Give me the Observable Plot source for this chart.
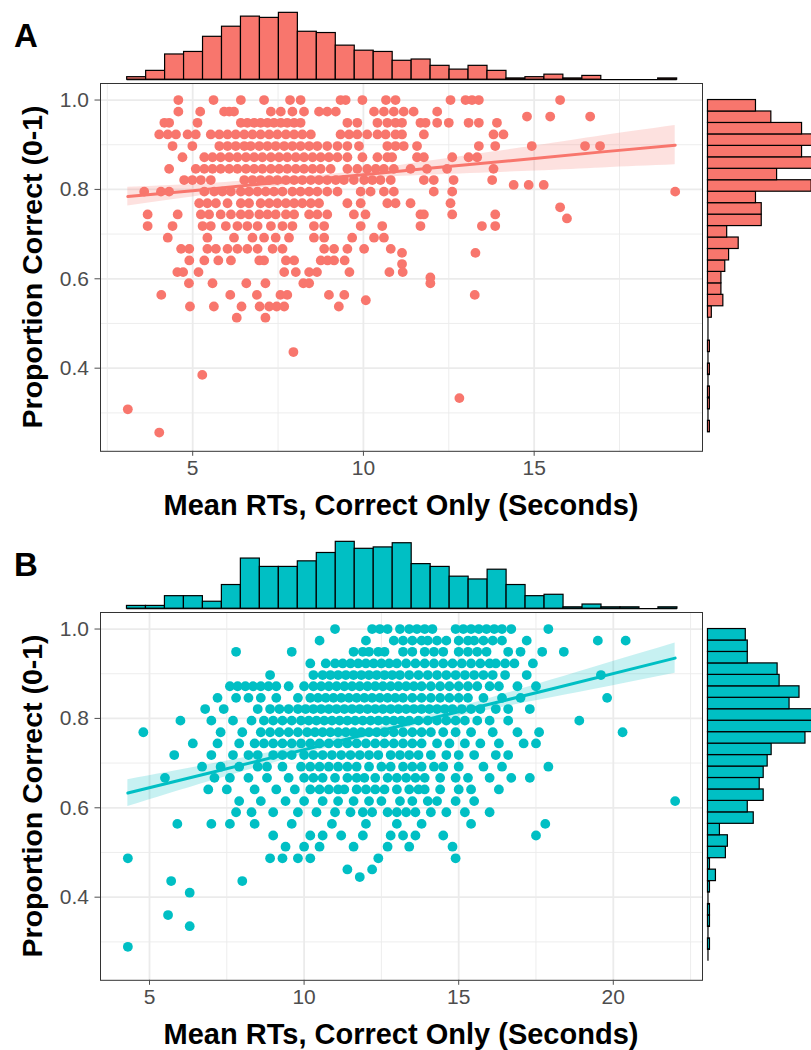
<!DOCTYPE html>
<html>
<head>
<meta charset="utf-8">
<script src="https://cdn.jsdelivr.net/npm/d3@7"></script>
<script src="https://cdn.jsdelivr.net/npm/@observablehq/plot@0.6"></script>
<style>
  html, body { margin: 0; padding: 0; background: #fff; }
  #fig { position: relative; width: 811px; height: 1050px; overflow: hidden; }
  #fig svg { position: absolute; }
</style>
</head>
<body>
<div id="fig"></div>
<script>
// ---------- Panel A: accuracy (proportion correct) vs mean correct RT ----------
// Each row: [proportion correct, RTs (seconds) of the participants at that level]
const rowsA = [
  [1.000, [4.58, 5.61, 6.41, 7.09, 7.85, 8.16, 9.33, 9.48, 9.97, 10.66, 10.94, 12.55, 12.99, 13.18, 13.38, 15.76]],
  [0.974, [4.58, 5.22, 5.92, 6.07, 6.21, 7.29, 7.58, 7.92, 8.26, 8.70, 8.94, 9.19, 10.31, 10.60, 10.89, 11.18, 11.47, 12.16]],
  [0.963, [14.79, 15.47, 16.64]],
  [0.949, [4.17, 4.31, 5.14, 6.41, 6.60, 6.80, 6.99, 7.19, 7.38, 7.58, 7.77, 7.97, 8.16, 9.53, 9.82, 10.41, 10.70, 10.94, 11.13, 11.67, 11.82, 12.16, 12.50, 13.08, 13.38, 13.91]],
  [0.923, [4.02, 4.27, 4.51, 4.85, 5.09, 5.53, 5.78, 6.02, 6.26, 6.51, 6.75, 6.99, 7.24, 7.48, 7.73, 7.97, 8.21, 8.46, 9.33, 9.58, 9.82, 10.11, 10.41, 10.65, 10.94, 11.13, 11.77, 13.81, 14.10]],
  [0.897, [4.41, 4.99, 5.78, 6.02, 6.26, 6.51, 6.70, 6.95, 7.19, 7.43, 7.68, 7.92, 8.16, 8.41, 8.65, 8.94, 9.24, 9.53, 9.87, 10.70, 10.94, 11.18, 11.57, 13.38, 13.86, 14.93, 16.49, 16.93]],
  [0.872, [4.70, 5.34, 5.58, 5.82, 6.07, 6.31, 6.56, 6.80, 7.04, 7.29, 7.53, 7.77, 8.02, 8.26, 8.51, 8.75, 8.99, 9.24, 9.53, 9.97, 10.41, 10.70, 10.84, 11.57, 11.77, 12.60, 13.08, 13.33]],
  [0.846, [4.31, 5.09, 5.34, 5.58, 5.82, 6.07, 6.31, 6.56, 6.80, 7.04, 7.29, 7.53, 7.77, 8.02, 8.26, 8.51, 8.75, 9.04, 9.53, 9.82, 10.11, 10.36, 10.60, 10.89, 11.38, 11.86, 12.45, 13.81]],
  [0.821, [4.75, 4.99, 5.24, 5.53, 6.51, 6.75, 6.99, 7.24, 7.48, 7.73, 7.97, 8.21, 8.46, 8.70, 8.94, 9.19, 9.43, 9.72, 10.02, 10.26, 10.50, 10.80, 11.77, 12.06, 12.64, 13.77]],
  [0.810, [14.40, 14.84, 15.28]],
  [0.795, [3.58, 4.07, 4.31, 5.34, 5.63, 5.87, 6.12, 6.41, 6.65, 6.90, 7.14, 7.38, 7.63, 7.92, 8.16, 8.41, 8.65, 8.94, 9.24, 9.92, 10.21, 10.60, 10.89, 12.06, 12.60, 19.13]],
  [0.769, [5.19, 5.43, 5.68, 6.02, 6.41, 6.65, 6.99, 7.24, 7.48, 7.73, 7.97, 8.21, 8.46, 8.70, 9.53, 9.92, 10.70, 10.94, 11.38, 12.55]],
  [0.760, [15.76]],
  [0.744, [3.68, 4.56, 5.24, 5.48, 5.82, 6.12, 6.41, 6.65, 6.95, 7.19, 7.43, 7.73, 7.97, 8.41, 8.65, 8.94, 9.72, 10.06, 11.67, 11.77, 12.60, 13.86]],
  [0.735, [15.96]],
  [0.718, [3.68, 4.41, 5.29, 5.53, 5.97, 6.31, 6.60, 6.90, 7.29, 7.63, 7.92, 8.55, 8.85, 9.92, 10.55, 11.67, 13.47, 13.86]],
  [0.692, [4.27, 5.43, 6.21, 6.75, 7.09, 7.43, 7.82, 8.55, 8.85, 9.67, 10.31, 10.60]],
  [0.667, [4.66, 4.90, 5.43, 5.68, 6.02, 6.31, 6.60, 6.90, 7.34, 7.63, 8.85, 9.14, 9.53, 10.02, 10.80]],
  [0.658, [11.13, 13.28]],
  [0.641, [4.90, 5.34, 5.75, 6.12, 6.95, 7.09, 7.73, 7.97, 8.75, 8.95, 9.14, 9.45]],
  [0.633, [11.13]],
  [0.615, [4.55, 4.72, 5.17, 7.68, 8.02, 8.41, 8.64, 9.59, 10.76, 11.15]],
  [0.603, [11.96]],
  [0.590, [4.89, 5.58, 6.57, 7.13, 8.24, 8.41, 11.96]],
  [0.564, [4.08, 6.10, 6.88, 7.57, 7.77, 8.99, 9.44, 13.26]],
  [0.552, [10.07]],
  [0.538, [4.92, 5.62, 6.43, 6.96, 7.24, 7.46, 7.68, 9.28]],
  [0.513, [6.29, 7.13]],
  [0.436, [7.95]],
  [0.385, [5.28]],
  [0.333, [12.81]],
  [0.308, [3.10]],
  [0.256, [4.02]]
];

// Linear fit of panel A with its 95% band
const fitAX  = [3.10, 5, 7, 8.5, 10, 12, 15, 17, 19.13];
const fitAY  = [0.784, 0.797, 0.812, 0.822, 0.833, 0.848, 0.869, 0.884, 0.899];
const fitALo = [0.763, 0.783, 0.803, 0.814, 0.824, 0.832, 0.841, 0.848, 0.855];
const fitAHi = [0.805, 0.811, 0.821, 0.830, 0.842, 0.864, 0.897, 0.920, 0.943];

// Marginal histograms of panel A (counts per bin)
const histAXStart = 3.08, histAXWidth = 0.5555;
const histAXCounts = [2, 7, 20, 22, 34, 42, 50, 49, 53, 38, 37, 27, 23, 22, 15, 16, 11, 8, 11, 7, 1, 2, 4, 1, 3, 0, 0, 0, 1];
const histAYStart = 10 / 39, histAYWidth = 1 / 39;   // bins listed from low to high accuracy
const histAYCounts = [1, 0, 1, 1, 0, 1, 0, 1, 0, 0, 2, 8, 7, 7, 9, 11, 16, 10, 28, 28, 25, 54, 36, 57, 49, 55, 49, 33, 25];

// ---------- Panel B ----------
const rowsB = [
  [1.000, [11.0, 12.2, 12.45, 12.7, 13.1, 13.4, 13.65, 13.9, 14.15, 14.9, 15.15, 15.4, 15.65, 15.9, 16.15, 16.4, 16.7, 17.9]],
  [0.974, [10.5, 12.0, 12.9, 13.2, 13.5, 13.8, 14.0, 14.3, 14.6, 15.0, 15.3, 15.5, 15.8, 16.1, 16.4, 17.2, 19.5, 20.4]],
  [0.949, [7.8, 9.6, 11.6, 11.9, 12.1, 12.4, 12.6, 13.2, 13.5, 13.9, 14.2, 14.5, 15.0, 15.3, 15.6, 15.9, 16.6, 17.0, 17.7, 18.4]],
  [0.923, [10.2, 10.7, 11.0, 11.25, 11.5, 11.75, 12.0, 12.25, 12.5, 12.75, 13.0, 13.3, 13.6, 13.9, 14.2, 14.5, 14.8, 15.1, 15.4, 15.7, 16.0, 16.2, 16.5, 16.8, 17.4]],
  [0.897, [8.9, 10.3, 10.6, 10.85, 11.1, 11.35, 11.6, 11.85, 12.1, 12.35, 12.6, 12.85, 13.1, 13.4, 13.7, 14.0, 14.3, 14.6, 14.9, 15.2, 15.5, 15.8, 16.1, 16.5, 17.2, 19.6]],
  [0.872, [7.6, 7.85, 8.1, 8.35, 8.6, 8.85, 9.1, 9.5, 10.0, 10.3, 10.55, 10.8, 11.05, 11.3, 11.55, 11.8, 12.05, 12.3, 12.55, 12.8, 13.05, 13.3, 13.55, 13.8, 14.1, 14.4, 14.7, 15.0, 15.3, 15.6, 16.0, 16.3, 16.9, 17.5]],
  [0.846, [7.2, 7.8, 8.2, 8.6, 9.1, 9.8, 10.2, 10.45, 10.7, 10.95, 11.2, 11.45, 11.7, 11.95, 12.2, 12.45, 12.7, 12.95, 13.2, 13.5, 13.8, 14.1, 14.4, 14.7, 15.0, 15.3, 15.8, 16.4, 17.0, 19.8]],
  [0.821, [6.8, 7.4, 8.5, 8.9, 9.2, 9.5, 9.8, 10.05, 10.3, 10.55, 10.8, 11.05, 11.3, 11.55, 11.8, 12.05, 12.3, 12.55, 12.8, 13.05, 13.3, 13.55, 13.8, 14.05, 14.3, 14.55, 14.8, 15.1, 15.4, 15.7, 16.2, 16.6, 17.3]],
  [0.795, [6.0, 7.0, 7.7, 8.3, 8.7, 9.0, 9.3, 9.6, 9.9, 10.15, 10.4, 10.65, 10.9, 11.15, 11.4, 11.65, 11.9, 12.15, 12.4, 12.65, 12.9, 13.15, 13.4, 13.7, 14.0, 14.3, 14.6, 14.9, 15.2, 15.6, 16.0, 16.6, 18.9]],
  [0.769, [4.8, 7.3, 8.0, 8.6, 8.9, 9.2, 9.5, 9.8, 10.1, 10.35, 10.6, 10.85, 11.1, 11.35, 11.6, 11.85, 12.1, 12.35, 12.6, 12.9, 13.2, 13.5, 13.8, 14.1, 14.5, 14.9, 15.4, 16.1, 16.9, 17.6, 20.3]],
  [0.744, [6.4, 7.2, 7.9, 8.4, 8.7, 9.0, 9.3, 9.6, 9.9, 10.2, 10.5, 10.8, 11.1, 11.4, 11.7, 12.0, 12.3, 12.6, 12.9, 13.2, 13.5, 13.8, 14.3, 14.7, 15.2, 15.7, 16.3, 17.1, 17.5]],
  [0.718, [5.8, 7.0, 7.7, 8.2, 8.5, 9.0, 9.3, 9.6, 10.0, 10.3, 10.6, 10.9, 11.2, 11.5, 11.8, 12.1, 12.4, 12.8, 13.1, 13.4, 13.7, 14.1, 14.6, 15.0, 15.5, 16.2, 16.6]],
  [0.692, [6.7, 7.3, 7.9, 8.5, 8.8, 9.3, 9.9, 10.2, 10.5, 10.8, 11.1, 11.4, 11.7, 12.1, 12.5, 12.8, 13.2, 13.5, 13.8, 14.2, 14.5, 15.0, 15.8, 16.4, 17.9]],
  [0.667, [5.5, 7.1, 7.6, 8.2, 8.8, 9.5, 10.0, 10.3, 10.6, 11.0, 11.4, 11.7, 11.95, 12.3, 12.7, 13.0, 13.3, 13.6, 13.9, 14.4, 14.9, 15.3, 16.0, 16.7, 17.3]],
  [0.641, [6.9, 7.5, 8.4, 9.1, 9.7, 10.2, 10.5, 10.8, 11.1, 11.3, 11.7, 12.0, 12.3, 12.6, 13.0, 13.4, 13.7, 13.9, 14.4, 15.0, 15.4, 16.3]],
  [0.615, [7.9, 8.6, 9.4, 10.0, 10.6, 11.1, 11.6, 12.1, 12.5, 13.1, 13.5, 14.0, 14.3, 14.9, 15.5, 22.0]],
  [0.590, [7.8, 8.3, 9.0, 9.8, 10.4, 11.0, 11.5, 11.9, 12.2, 12.7, 13.0, 13.3, 13.6, 14.1, 14.6, 15.2, 16.0]],
  [0.564, [5.9, 7.0, 7.6, 8.4, 9.6, 10.9, 12.0, 13.0, 13.8, 15.4, 17.8]],
  [0.538, [9.0, 10.2, 10.6, 11.2, 11.9, 12.8, 13.2, 13.6, 14.5, 17.5]],
  [0.513, [9.4, 10.0, 10.5, 11.6, 12.7, 13.4, 14.8]],
  [0.487, [4.3, 8.9, 9.3, 9.8, 10.2, 12.4, 14.9]],
  [0.462, [11.4, 12.2]],
  [0.445, [11.8]],
  [0.436, [5.7, 8.0]],
  [0.410, [6.3]],
  [0.360, [5.6]],
  [0.335, [6.3]],
  [0.289, [4.3]]
];

const fitBX  = [4.3, 7, 10, 12.5, 15, 18, 22.0];
const fitBY  = [0.633, 0.679, 0.730, 0.773, 0.815, 0.866, 0.935];
const fitBLo = [0.603, 0.660, 0.720, 0.765, 0.805, 0.846, 0.901];
const fitBHi = [0.663, 0.698, 0.740, 0.781, 0.825, 0.886, 0.969];

const histBXStart = 4.27, histBXWidth = 0.614;
const histBXCounts = [2, 2, 9, 9, 5, 17, 36, 30, 30, 34, 40, 48, 43, 44, 47, 32, 30, 23, 21, 28, 17, 9, 10, 1, 3, 1, 1, 0, 1];
const histBYStart = 10 / 39, histBYWidth = 1 / 39;
const histBYCounts = [0, 1, 0, 1, 1, 0, 1, 4, 1, 9, 10, 6, 23, 20, 28, 26, 28, 30, 32, 49, 53, 55, 41, 46, 36, 35, 20, 20, 19];

// ---------- shared axis settings ----------
const yTicks = [0.4, 0.6, 0.8, 1.0];
const yMinor = [0.3, 0.5, 0.7, 0.9];
const xTitle = "Mean RTs, Correct Only (Seconds)";
const yTitle = "Proportion Correct (0-1)";

// ---------- drawing ----------
const fig = document.getElementById("fig");
const FONT = '"Liberation Sans", Arial, Helvetica, sans-serif';
const L = 100, R = 702;          // left / right edge of the scatter panels
const PH = 367.8;                 // scatter panel height
const yDomain = [0.214, 1.037];
const GRID = "#ebebeb";
const TICK_FS = 21;

function place(el, left, top) {
  el.style.left = left + "px";
  el.style.top = top + "px";
  fig.appendChild(el);
}

function zip(xs, ys, lo, hi) {
  return xs.map((x, i) => ({x, y: ys[i], lo: lo[i], hi: hi[i]}));
}

function drawPanel({top, xDomain, xTicks, xMinor, rows, fit, hx, hy, color}) {
  const pts = rows.flatMap(([y, xs]) => xs.map(x => ({x, y})));
  const mt = 6, mb = 6;

  const scatter = Plot.plot({
    width: R + 2, height: mt + PH + mb,
    marginLeft: L, marginRight: 2, marginTop: mt, marginBottom: mb,
    style: {fontFamily: FONT, fontSize: TICK_FS + "px", background: "transparent", overflow: "visible"},
    x: {domain: xDomain},
    y: {domain: yDomain},
    marks: [
      Plot.gridX(xMinor, {stroke: GRID, strokeOpacity: 1, strokeWidth: 0.9}),
      Plot.gridY(yMinor, {stroke: GRID, strokeOpacity: 1, strokeWidth: 0.9}),
      Plot.gridX(xTicks, {stroke: GRID, strokeOpacity: 1, strokeWidth: 1.8}),
      Plot.gridY(yTicks, {stroke: GRID, strokeOpacity: 1, strokeWidth: 1.8}),
      Plot.dot(pts, {x: "x", y: "y", r: 4.9, fill: color}),
      Plot.areaY(fit, {x: "x", y1: "lo", y2: "hi", fill: color, fillOpacity: 0.22, curve: "natural"}),
      Plot.line(fit, {x: "x", y: "y", stroke: color, strokeWidth: 3}),
      Plot.frame({stroke: "#333", strokeWidth: 1}),
      Plot.axisX(xTicks, {label: null, tickSize: 5, tickPadding: 3.5, fontSize: TICK_FS, color: "#4d4d4d"}),
      Plot.axisY(yTicks, {label: null, tickSize: 5.5, tickPadding: 6, fontSize: TICK_FS, color: "#4d4d4d",
                          tickFormat: d3.format(".1f")})
    ]
  });
  place(scatter, 0, top - mt);

  // top marginal histogram
  const MH = PH / 5;
  const mx = d3.max(hx.counts);
  const binsX = hx.counts.map((c, i) => ({x1: hx.start + i * hx.width, x2: hx.start + (i + 1) * hx.width, c}));
  const topHist = Plot.plot({
    width: R + 2, height: MH, marginLeft: L, marginRight: 2, marginTop: 0, marginBottom: 0,
    style: {background: "transparent", overflow: "visible"},
    x: {domain: xDomain, axis: null},
    y: {domain: [-0.05 * mx, 1.05 * mx], axis: null},
    marks: [
      Plot.ruleY([0], {x1: binsX[0].x1, x2: binsX[binsX.length - 1].x2, stroke: "#000", strokeWidth: 1.2}),
      Plot.rectY(binsX, {x1: "x1", x2: "x2", y1: 0, y2: "c", fill: color, stroke: "#000", strokeWidth: 1.2, inset: 0})
    ]
  });
  place(topHist, 0, top - MH);

  // right marginal histogram
  const MW = (R - L) / 5;
  const my = d3.max(hy.counts);
  const binsY = hy.counts.map((c, i) => ({y1: hy.start + i * hy.width, y2: hy.start + (i + 1) * hy.width, c}));
  const sideHist = Plot.plot({
    width: MW, height: PH, margin: 0,
    style: {background: "transparent", overflow: "visible"},
    x: {domain: [-0.05 * my, 1.05 * my], axis: null},
    y: {domain: yDomain, axis: null},
    marks: [
      Plot.ruleX([0], {y1: binsY[0].y1, y2: binsY[binsY.length - 1].y2, stroke: "#000", strokeWidth: 1.2}),
      Plot.rectX(binsY, {y1: "y1", y2: "y2", x1: 0, x2: "c", fill: color, stroke: "#000", strokeWidth: 1.2, inset: 0})
    ]
  });
  place(sideHist, R, top);
}

drawPanel({
  top: 83, xDomain: [2.3, 19.93], xTicks: [5, 10, 15], xMinor: [2.5, 7.5, 12.5, 17.5],
  rows: rowsA, fit: zip(fitAX, fitAY, fitALo, fitAHi),
  hx: {start: histAXStart, width: histAXWidth, counts: histAXCounts},
  hy: {start: histAYStart, width: histAYWidth, counts: histAYCounts},
  color: "#F8766D"
});
drawPanel({
  top: 612, xDomain: [3.415, 22.885], xTicks: [5, 10, 15, 20], xMinor: [7.5, 12.5, 17.5, 22.5],
  rows: rowsB, fit: zip(fitBX, fitBY, fitBLo, fitBHi),
  hx: {start: histBXStart, width: histBXWidth, counts: histBXCounts},
  hy: {start: histBYStart, width: histBYWidth, counts: histBYCounts},
  color: "#00BFC4"
});

// titles and panel tags
const labels = d3.create("svg").attr("width", 811).attr("height", 1050)
  .style("font-family", FONT).style("overflow", "visible");
[["A", 83], ["B", 612]].forEach(([tag, top]) => {
  labels.append("text").attr("x", 14).attr("y", top - 36.5)
    .attr("font-size", 33).attr("font-weight", "bold").text(tag);
  labels.append("text").attr("x", (L + R) / 2).attr("y", top + PH + 64)
    .attr("text-anchor", "middle").attr("font-size", 29).attr("font-weight", "bold").text(xTitle);
  labels.append("text").attr("transform", `translate(42,${top + PH / 2}) rotate(-90)`)
    .attr("text-anchor", "middle").attr("font-size", 28.5).attr("font-weight", "bold").text(yTitle);
});
place(labels.node(), 0, 0);
</script>
</body>
</html>
